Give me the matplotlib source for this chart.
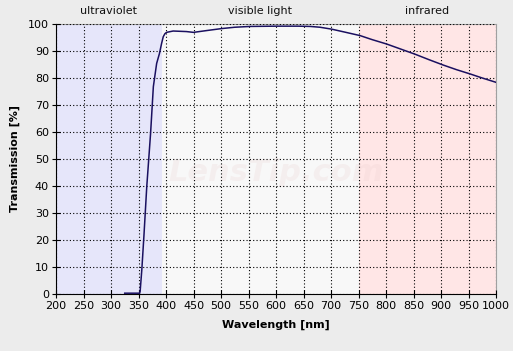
import numpy as np
import matplotlib
matplotlib.use("Agg")
import matplotlib.pyplot as plt

# -----------------------------
# Datos
# -----------------------------
wavelength = [325, 340, 352, 353, 356, 360, 365, 372, 377, 383, 388, 392, 395, 398, 401, 413,
              425, 437, 450, 475, 501, 525, 553, 600, 640, 662, 680, 701, 725,
              753, 775, 801, 827, 853, 878, 904, 928, 953, 975, 1000]
transmission = [0.3, 0.3, 0.3, 1.0, 8.9, 22.0, 39.7, 59.6, 76.8, 85.4, 89.0, 92.8, 95.3, 96.4, 96.9, 97.4,
                97.3, 97.2, 96.9, 97.6, 98.3, 98.8, 99.1, 99.2, 99.2, 99.1, 98.8, 98.1, 97.0,
                95.7, 94.2, 92.6, 90.7, 88.8, 86.8, 84.8, 83.1, 81.5, 80.0, 78.4]

regions = ["ultraviolet", "visible light", "infrared"]
region_edges = [200, 392, 750, 1000]
region_colors = ["#e6e6fa", "#f8f8f8", "#ffe6e6"]

xticks = list(range(200, 1001, 50))
yticks = list(range(0, 101, 10))

# -----------------------------
# Figura
# -----------------------------
fig = plt.figure(figsize=(5.13, 3.51), dpi=100, facecolor="#ececec")
ax = fig.add_axes([56 / 513, 1 - 294 / 351, 440 / 513, 270 / 351])
ax.set_facecolor("#f8f8f8")

for i, name in enumerate(regions):
    ax.axvspan(region_edges[i], region_edges[i + 1], color=region_colors[i], lw=0, zorder=0)
    ax.text((region_edges[i] + region_edges[i + 1]) / 2, 103, name, ha="center", va="bottom",
            fontsize=8, color="#111111")

# marca de agua
ax.text(600, 45, "LensTip.com", ha="center", va="center", fontsize=22, fontstyle="italic",
        fontweight="bold", color="#e8c8c8", alpha=0.2, zorder=1)

ax.plot(wavelength, transmission, color="#1a1060", lw=1.1, zorder=3)

ax.set_xlim(200, 1000)
ax.set_ylim(0, 100)
ax.set_xticks(xticks)
ax.set_yticks(yticks)
ax.tick_params(axis="both", direction="inout", length=6, width=0.8, labelsize=8, pad=2,
               colors="#000000")
ax.grid(True, color="black", linestyle=(0, (1, 2)), linewidth=0.8, zorder=2)
ax.set_axisbelow(False)

for side in ["top", "right"]:
    ax.spines[side].set_color("#a0a0a0")
    ax.spines[side].set_linewidth(0.8)
for side in ["left", "bottom"]:
    ax.spines[side].set_color("black")
    ax.spines[side].set_linewidth(0.8)

ax.set_xlabel("Wavelength [nm]", fontsize=8, fontweight="bold", labelpad=6)
ax.set_ylabel("Transmission [%]", fontsize=8, fontweight="bold", labelpad=6)

fig.savefig("out.png", dpi=100, facecolor=fig.get_facecolor())
